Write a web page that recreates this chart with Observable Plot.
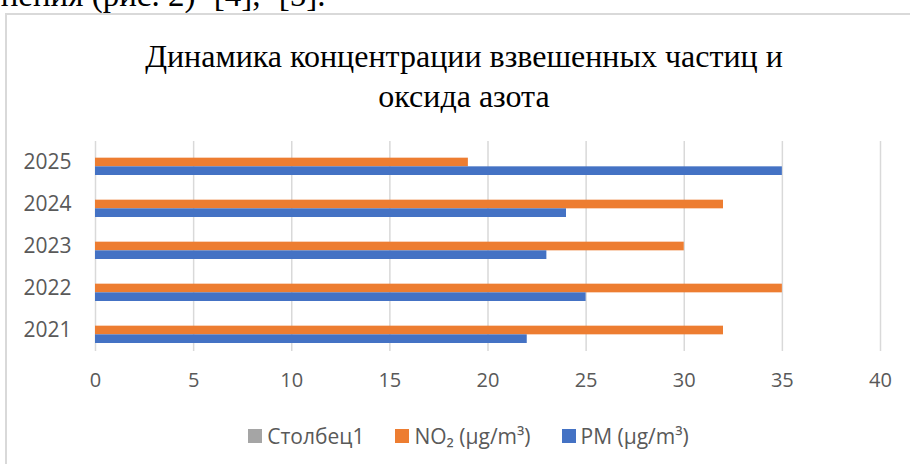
<!DOCTYPE html>
<html><head><meta charset="utf-8">
<script src="https://cdn.jsdelivr.net/npm/d3@7"></script>
<script src="https://cdn.jsdelivr.net/npm/@observablehq/plot@0.6"></script>
<style>
body{margin:0;width:910px;height:464px;overflow:hidden;background:#fff;position:relative;font-family:"Open Sans",sans-serif}
#above{position:absolute;left:-14px;top:-21px;font:33px/33px "Liberation Serif",serif;color:#000;white-space:nowrap}
#above .ws{word-spacing:10px}
#frame{position:absolute;left:5px;top:13px;width:940px;height:480px;border:2px solid #d9d9d9;box-sizing:border-box}
#title{position:absolute;left:14px;width:900px;top:36px;text-align:center;font:32px/40px "Liberation Serif",serif;color:#000}
#chart{position:absolute;left:0;top:120px}
#legend{position:absolute;left:0;width:937px;top:421px;display:flex;justify-content:center;gap:31px;font-size:21px;color:#595959;line-height:30px}
#legend .it{display:flex;align-items:center}
#legend .sw{width:14px;height:14px;margin-right:5px}
</style></head>
<body>
<div id="above">енения (рис. 2)<span class="ws"> [4], [5].</span></div>
<div id="frame"></div>
<div id="title">Динамика концентрации взвешенных частиц и<br>оксида азота</div>
<div id="chart"></div>
<div id="legend"></div>
<script>
const years = ["2021","2022","2023","2024","2025"];
const pmValues = [22,25,23,24,35];
const no2Values = [32,35,30,32,19];
const xTicks = [0,5,10,15,20,25,30,35,40];
const seriesNames = ["Столбец1","NO₂ (μg/m³)","PM (μg/m³)"];
const seriesColors = ["#A5A5A5","#ED7D31","#4472C4"];

const data = years.map((y,i)=>({year:y, pm:pmValues[i], no2:no2Values[i]}));
const slot = 26/3;

const chart = Plot.plot({
  width:910, height:280,
  marginLeft:95, marginRight:30, marginTop:21, marginBottom:49,
  style:{fontFamily:"'Open Sans', sans-serif", fontSize:"20px", color:"#595959", background:"transparent"},
  x:{domain:[0,40], label:null},
  y:{domain:[...years].reverse(), paddingInner:0.381, paddingOuter:0.19, label:null},
  marks:[
    Plot.ruleX(xTicks,{stroke:"#d9d9d9", strokeWidth:1.5}),
    Plot.barX(data,{y:"year", x:"no2", fill:seriesColors[1], insetTop:slot, insetBottom:slot}),
    Plot.barX(data,{y:"year", x:"pm", fill:seriesColors[2], insetTop:2*slot, insetBottom:0}),
    Plot.axisX({ticks:xTicks, tickSize:0, tickPadding:21, fontSize:20, label:null}),
    Plot.axisY({tickSize:0, tickPadding:24, fontSize:21, label:null})
  ]
});
document.getElementById("chart").appendChild(chart);

const legend = document.getElementById("legend");
seriesNames.forEach((n,i)=>{
  const it = document.createElement("div"); it.className="it";
  const sw = document.createElement("span"); sw.className="sw"; sw.style.background=seriesColors[i];
  const t = document.createElement("span"); t.textContent=n;
  it.appendChild(sw); it.appendChild(t); legend.appendChild(it);
});
</script>
</body></html>
